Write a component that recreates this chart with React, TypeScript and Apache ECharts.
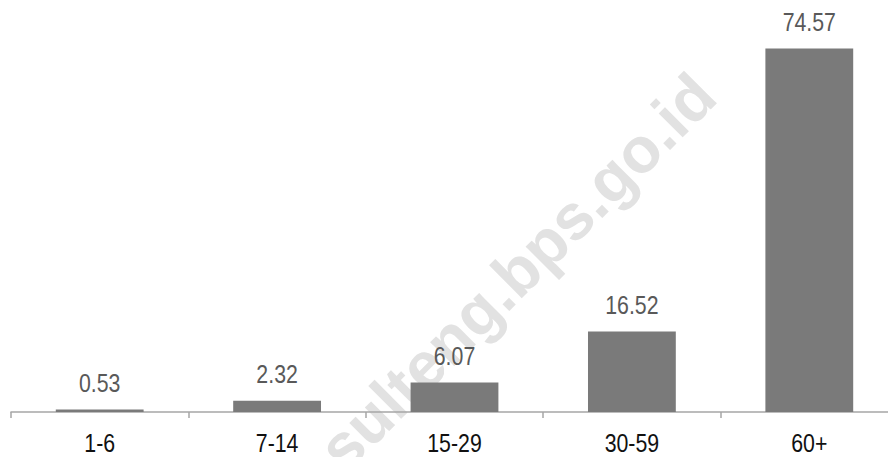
import React, { useEffect, useRef } from "react";
import * as echarts from "echarts";

// Age groups and their shares (%)
const categories = ["1-6", "7-14", "15-29", "30-59", "60+"];
const values = [0.53, 2.32, 6.07, 16.52, 74.57];
const watermarkText = "sulteng.bps.go.id";

const FONT_FAMILY = '"Liberation Sans", Arial, sans-serif';
// Horizontal squeeze that gives a narrow-face look to the labels
const NARROW_SCALE = 0.82;

export default function App() {
  const ref = useRef<HTMLDivElement>(null);

  useEffect(() => {
    if (!ref.current) return;
    const chart = echarts.init(ref.current, undefined, { renderer: "svg" });

    const pointData = values.map((v, i) => [i, v]);
    const baseData = categories.map((_, i) => [i, 0]);

    chart.setOption({
      animation: false,
      backgroundColor: "#ffffff",
      graphic: [
        {
          type: "text",
          x: 517,
          y: 272,
          rotation: Math.PI / 4,
          z: -10,
          silent: true,
          style: {
            text: watermarkText,
            fill: "#e2e2e2",
            font: `bold 64px ${FONT_FAMILY}`,
            align: "center",
            verticalAlign: "middle",
          },
        },
      ],
      grid: { left: 11, right: 0, top: 22, bottom: 45, containLabel: false },
      xAxis: {
        type: "category",
        data: categories,
        boundaryGap: true,
        axisLine: { show: true, lineStyle: { color: "#a6a6a6", width: 1.5 } },
        axisTick: { show: true, length: 6, alignWithLabel: false, lineStyle: { color: "#a6a6a6", width: 1.5 } },
        axisLabel: { show: false },
        splitLine: { show: false },
      },
      yAxis: {
        type: "value",
        min: 0,
        max: 80,
        show: false,
        splitLine: { show: false },
      },
      series: [
        {
          type: "bar",
          data: values,
          barWidth: "49.5%",
          itemStyle: { color: "#7a7a7a" },
          z: 2,
        },
        {
          // value labels above bars
          type: "custom",
          data: pointData,
          clip: false,
          silent: true,
          z: 3,
          renderItem: (_params: any, api: any) => {
            const v = api.value(1);
            const pt = api.coord([api.value(0), v]);
            return {
              type: "text",
              x: pt[0],
              y: pt[1] - 14,
              scaleX: NARROW_SCALE,
              style: {
                text: Number(v).toFixed(2),
                font: `26px ${FONT_FAMILY}`,
                fill: "#595959",
                align: "center",
                verticalAlign: "bottom",
              },
            };
          },
        },
        {
          // category labels under the axis
          type: "custom",
          data: baseData,
          clip: false,
          silent: true,
          z: 3,
          renderItem: (params: any, api: any) => {
            const pt = api.coord([api.value(0), 0]);
            return {
              type: "text",
              x: pt[0],
              y: pt[1] + 18,
              scaleX: NARROW_SCALE,
              style: {
                text: categories[params.dataIndex],
                font: `26px ${FONT_FAMILY}`,
                fill: "#111111",
                align: "center",
                verticalAlign: "top",
              },
            };
          },
        },
      ],
    });
    return () => chart.dispose();
  }, []);

  return (
    <div style={{ position: "fixed", left: 0, top: 0, width: 888, height: 457, overflow: "hidden", background: "#fff" }}>
      <div ref={ref} style={{ width: 898, height: 457 }} />
    </div>
  );
}
